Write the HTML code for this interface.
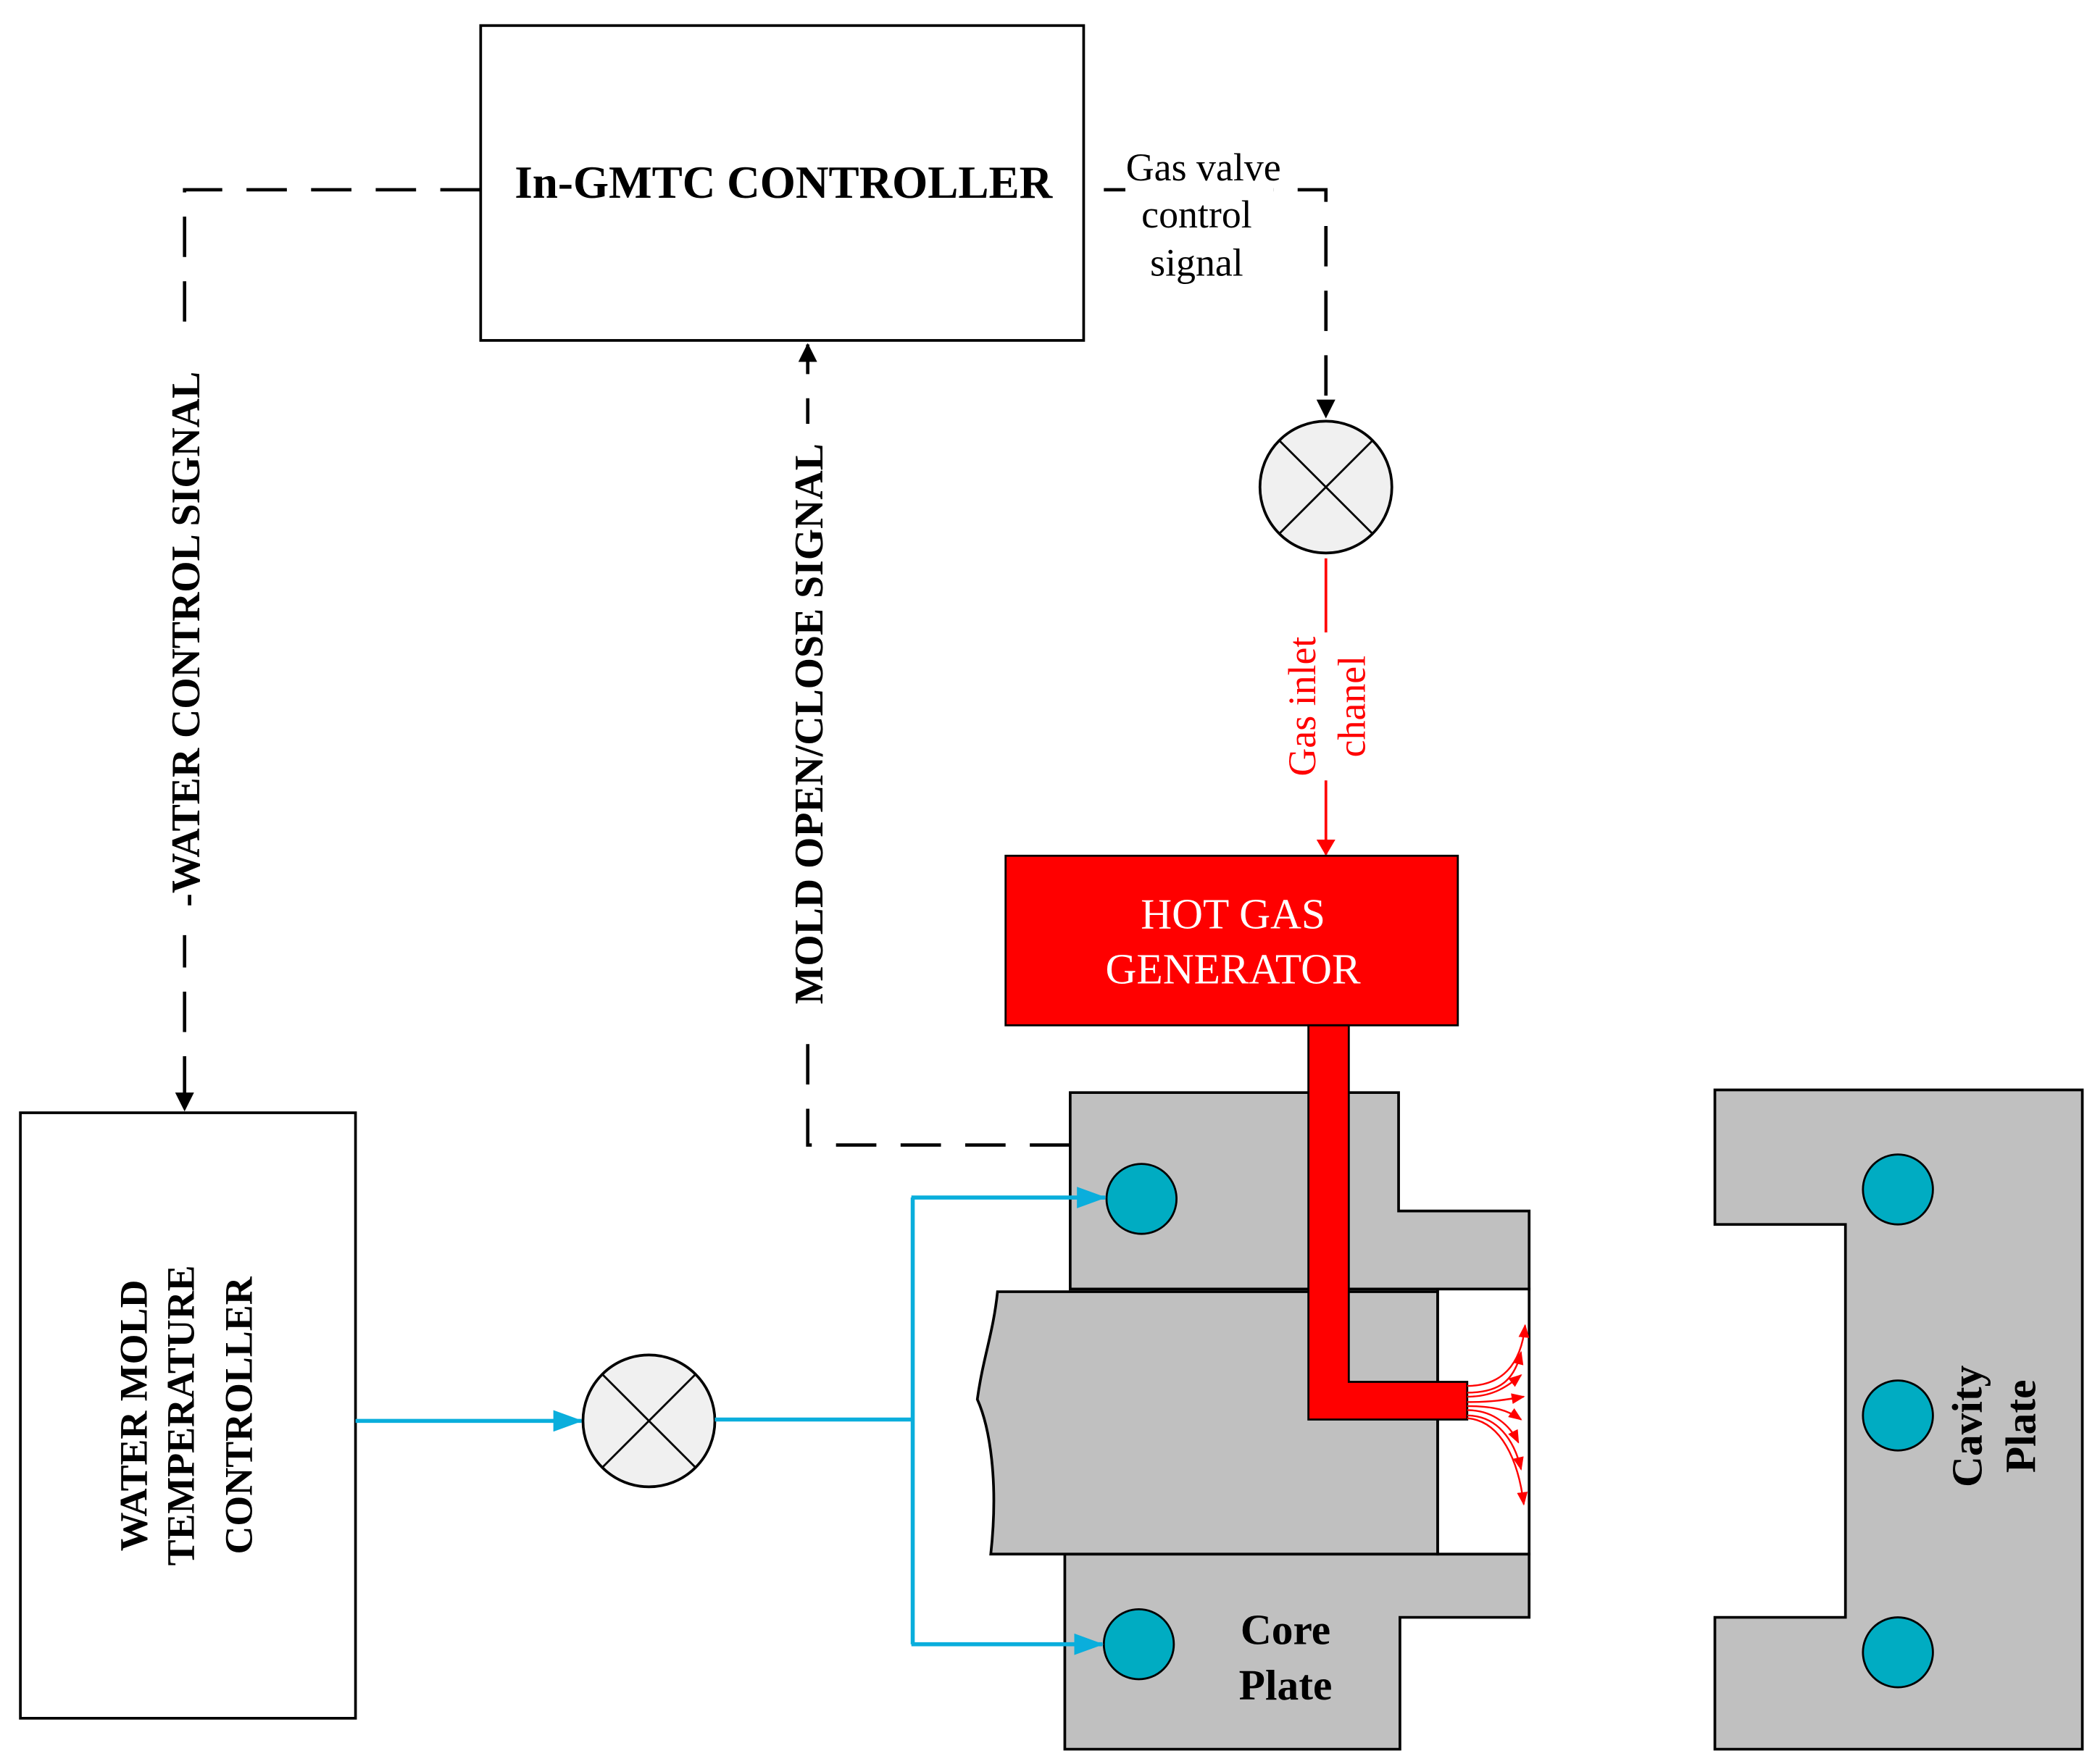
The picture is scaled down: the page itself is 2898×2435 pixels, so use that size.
<!DOCTYPE html>
<html><head><style>html,body{margin:0;padding:0;background:#fff}svg{display:block}</style></head><body>
<svg width="2898" height="2435" viewBox="0 0 1560 1311" xmlns="http://www.w3.org/2000/svg" font-family="Liberation Serif, serif">
<defs>
<marker id="ab" markerWidth="22" markerHeight="16" refX="21" refY="8" orient="auto" markerUnits="userSpaceOnUse"><path d="M0,0 L22,8 L0,16 z" fill="#0aaedc"/></marker>
<marker id="ar" markerWidth="12" markerHeight="14" refX="11" refY="7" orient="auto" markerUnits="userSpaceOnUse"><path d="M0,0 L12,7 L0,14 z" fill="#f00"/></marker>
<marker id="ar2" markerWidth="10" markerHeight="8" refX="9" refY="4" orient="auto" markerUnits="userSpaceOnUse"><path d="M0,0 L10,4 L0,8 z" fill="#f00"/></marker>
<marker id="akb" markerWidth="14" markerHeight="20" refX="13" refY="7" orient="auto" markerUnits="userSpaceOnUse"><path d="M0,0 L14,7 L0,14 z" fill="#000"/></marker>
</defs>
<rect x="357" y="19" width="448" height="234" fill="#fff" stroke="#000" stroke-width="2"/>
<text x="582" y="147" font-size="34" font-weight="bold" text-anchor="middle">In-GMTC CONTROLLER</text>
<path d="M357,141 H137 V825" fill="none" stroke="#000" stroke-width="2.5" stroke-dasharray="30,18" marker-end="url(#akb)"/>
<rect x="120" y="255" width="34" height="440" fill="#fff"/>
<text transform="translate(148,475) rotate(-90)" font-size="30" font-weight="bold" text-anchor="middle">-WATER CONTROL SIGNAL</text>
<rect x="15" y="827" width="249" height="450" fill="#fff" stroke="#000" stroke-width="2"/>
<g font-size="29" font-weight="bold" text-anchor="middle">
<text transform="translate(109,1052) rotate(-90)">WATER MOLD</text>
<text transform="translate(144,1052) rotate(-90)">TEMPERATURE</text>
<text transform="translate(187,1052) rotate(-90)">CONTROLLER</text>
</g>
<path d="M795,851 H600 V256" fill="none" stroke="#000" stroke-width="2.5" stroke-dasharray="30,18" marker-end="url(#akb)"/>
<rect x="584" y="315" width="34" height="445" fill="#fff"/>
<text transform="translate(611,538) rotate(-90)" font-size="30" font-weight="bold" text-anchor="middle">MOLD OPEN/CLOSE SIGNAL</text>
<path d="M820,141 H985 V310" fill="none" stroke="#000" stroke-width="2.5" stroke-dasharray="30,18" marker-end="url(#akb)"/>
<rect x="836" y="110" width="110" height="100" fill="#fff"/>
<g font-size="29" text-anchor="middle">
<text x="894" y="134">Gas valve</text>
<text x="889" y="169">control</text>
<text x="889" y="205">signal</text>
</g>
<circle cx="985" cy="362" r="49" fill="#f0f0f0" stroke="#000" stroke-width="2"/>
<path d="M950,327 L1020,397 M1020,327 L950,397" stroke="#000" stroke-width="1.5"/>
<line x1="985" y1="415" x2="985" y2="635" stroke="#f00" stroke-width="2" marker-end="url(#ar)"/>
<rect x="955" y="470" width="60" height="110" fill="#fff"/>
<g font-size="29" fill="#f00" text-anchor="middle">
<text transform="translate(977,525) rotate(-90)">Gas inlet</text>
<text transform="translate(1014,525) rotate(-90)">chanel</text>
</g>
<rect x="747" y="636" width="336" height="126" fill="#f00" stroke="#000" stroke-width="1.5"/>
<g font-size="32" fill="#fff" text-anchor="middle">
<text x="916" y="690">HOT GAS</text>
<text x="916" y="731">GENERATOR</text>
</g>
<path d="M795,812 H1039 V900 H1136 V958 H795 Z" fill="#c0c0c0" stroke="#000" stroke-width="2"/>
<path d="M791,1155 H1136 V1202 H1040 V1300 H791 Z" fill="#c0c0c0" stroke="#000" stroke-width="2"/>
<rect x="1068" y="958" width="68" height="197" fill="#fff" stroke="#000" stroke-width="2"/>
<path d="M741,960 H1068 V1155 H736 C742,1100 735,1060 726,1040 C730,1010 738,990 741,960 Z" fill="#c0c0c0" stroke="#000" stroke-width="2"/>
<path d="M1274,810 H1547 V1300 H1274 V1202 H1371 V910 H1274 Z" fill="#c0c0c0" stroke="#000" stroke-width="2"/>
<path d="M972,762 H1002 V1027 H1090 V1055 H972 Z" fill="#f00" stroke="#000" stroke-width="1.5"/>
<g fill="none" stroke="#f00" stroke-width="1.3">
<path d="M1090,1030 C1115,1030 1130,1015 1133,985" marker-end="url(#ar2)"/>
<path d="M1090,1035 C1115,1035 1125,1025 1130,1005" marker-end="url(#ar2)"/>
<path d="M1090,1038 C1110,1038 1120,1030 1130,1022" marker-end="url(#ar2)"/>
<path d="M1090,1042 C1110,1042 1120,1040 1132,1038" marker-end="url(#ar2)"/>
<path d="M1090,1045 C1110,1045 1120,1048 1130,1055" marker-end="url(#ar2)"/>
<path d="M1090,1048 C1110,1048 1122,1060 1128,1072" marker-end="url(#ar2)"/>
<path d="M1090,1052 C1112,1052 1125,1070 1130,1092" marker-end="url(#ar2)"/>
<path d="M1090,1054 C1115,1056 1128,1085 1132,1118" marker-end="url(#ar2)"/>
</g>
<g fill="#00acc2" stroke="#000" stroke-width="1.5">
<ellipse cx="848" cy="891" rx="26" ry="26"/>
<ellipse cx="846" cy="1222" rx="26" ry="26"/>
<ellipse cx="1410" cy="884" rx="26" ry="26"/>
<ellipse cx="1410" cy="1052" rx="26" ry="26"/>
<ellipse cx="1410" cy="1228" rx="26" ry="26"/>
</g>
<line x1="264" y1="1056" x2="432" y2="1056" stroke="#0aaedc" stroke-width="3" marker-end="url(#ab)"/>
<circle cx="482" cy="1056" r="49" fill="#f0f0f0" stroke="#000" stroke-width="2"/>
<path d="M447,1021 L517,1091 M517,1021 L447,1091" stroke="#000" stroke-width="1.5"/>
<path d="M531,1055 H678 M678,890 V1222" stroke="#0aaedc" stroke-width="3" fill="none"/>
<line x1="677" y1="890" x2="821" y2="890" stroke="#0aaedc" stroke-width="3" marker-end="url(#ab)"/>
<line x1="677" y1="1222" x2="819" y2="1222" stroke="#0aaedc" stroke-width="3" marker-end="url(#ab)"/>
<g font-size="32" font-weight="bold" text-anchor="middle">
<text x="955" y="1222">Core</text>
<text x="955" y="1263">Plate</text>
<text transform="translate(1472,1060) rotate(-90)">Cavity</text>
<text transform="translate(1512,1060) rotate(-90)">Plate</text>
</g>
</svg>
</body></html>
